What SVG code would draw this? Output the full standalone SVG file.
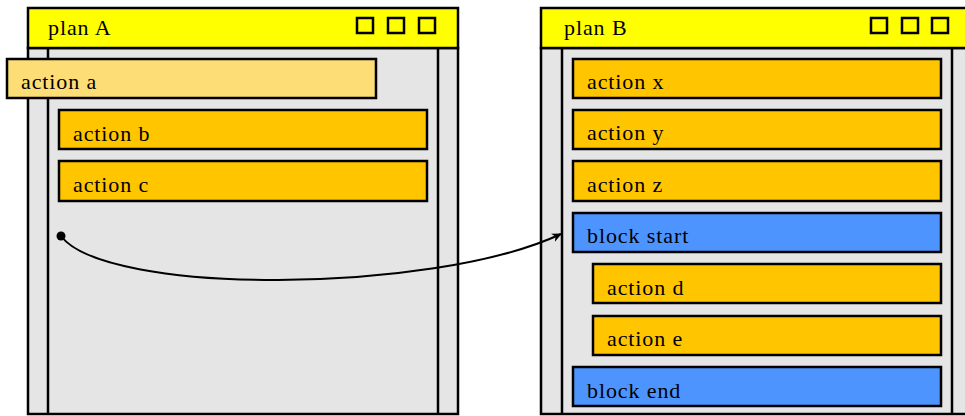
<svg xmlns="http://www.w3.org/2000/svg" width="965" height="416" viewBox="0 0 965 416">
<style>
.frame{stroke:#000;stroke-width:2.5}
.bar{fill:#ffff00}
.body{fill:#e5e5e5}
.btn{fill:none;stroke:#000;stroke-width:2.5}
.col{stroke:#000;stroke-width:2.5}
.act{fill:#ffc600;stroke:#000;stroke-width:2.5}
.actl{fill:#fddd75;stroke:#000;stroke-width:2.5}
.blk{fill:#4d94ff;stroke:#000;stroke-width:2.5}
text{font-family:"Liberation Serif","DejaVu Serif",serif;font-size:22px;letter-spacing:0.9px;fill:#000}
.conn{fill:none;stroke:#000;stroke-width:2}
</style>
<defs>
<marker id="arr" viewBox="0 0 10 10" refX="9" refY="5" markerWidth="10" markerHeight="10" markerUnits="userSpaceOnUse" orient="auto">
<path d="M0,0.5 L10,5 L0,9.5 L3,5 Z" fill="#000"/>
</marker>
</defs>
<g id="planA">
<rect class="frame body" x="28" y="48" width="430" height="366"/>
<line class="col" x1="48" y1="48" x2="48" y2="414"/>
<line class="col" x1="438" y1="48" x2="438" y2="414"/>
<rect class="frame bar" x="28" y="8" width="430" height="40"/>
<text x="48" y="35">plan A</text>
<rect class="btn" x="357" y="18" width="16" height="15"/>
<rect class="btn" x="388" y="18" width="16" height="15"/>
<rect class="btn" x="419" y="18" width="16" height="15"/>
</g>
<g id="planB">
<rect class="frame body" x="541" y="48" width="430" height="366"/>
<line class="col" x1="562" y1="48" x2="562" y2="414"/>
<line class="col" x1="952" y1="48" x2="952" y2="414"/>
<rect class="frame bar" x="541" y="8" width="430" height="40"/>
<text x="564" y="35">plan B</text>
<rect class="btn" x="871" y="18" width="16" height="15"/>
<rect class="btn" x="902" y="18" width="16" height="15"/>
<rect class="btn" x="932" y="18" width="16" height="15"/>
</g>
<g id="action-a"><rect class="actl" x="7" y="59" width="369" height="39"/><text x="21" y="89">action a</text></g>
<g id="action-b"><rect class="act" x="59" y="110" width="368" height="39"/><text x="73" y="141">action b</text></g>
<g id="action-c"><rect class="act" x="59" y="161" width="368" height="40"/><text x="73" y="192">action c</text></g>
<g id="action-x"><rect class="act" x="573" y="59" width="368" height="39"/><text x="587" y="89">action x</text></g>
<g id="action-y"><rect class="act" x="573" y="110" width="368" height="39"/><text x="587" y="140">action y</text></g>
<g id="action-z"><rect class="act" x="573" y="161" width="368" height="40"/><text x="587" y="192">action z</text></g>
<g id="block-start"><rect class="blk" x="573" y="213" width="368" height="39"/><text x="587" y="243">block start</text></g>
<g id="action-d"><rect class="act" x="593" y="264" width="348" height="39"/><text x="607" y="295">action d</text></g>
<g id="action-e"><rect class="act" x="593" y="316" width="348" height="39"/><text x="607" y="346">action e</text></g>
<g id="block-end"><rect class="blk" x="573" y="367" width="368" height="39"/><text x="587" y="398">block end</text></g>
<g id="connectors">
<circle cx="61" cy="236" r="4.5" fill="#000"/>
<path class="conn" d="M61,236 C105,295 430,295 561,234" marker-end="url(#arr)"/>
</g>
</svg>
